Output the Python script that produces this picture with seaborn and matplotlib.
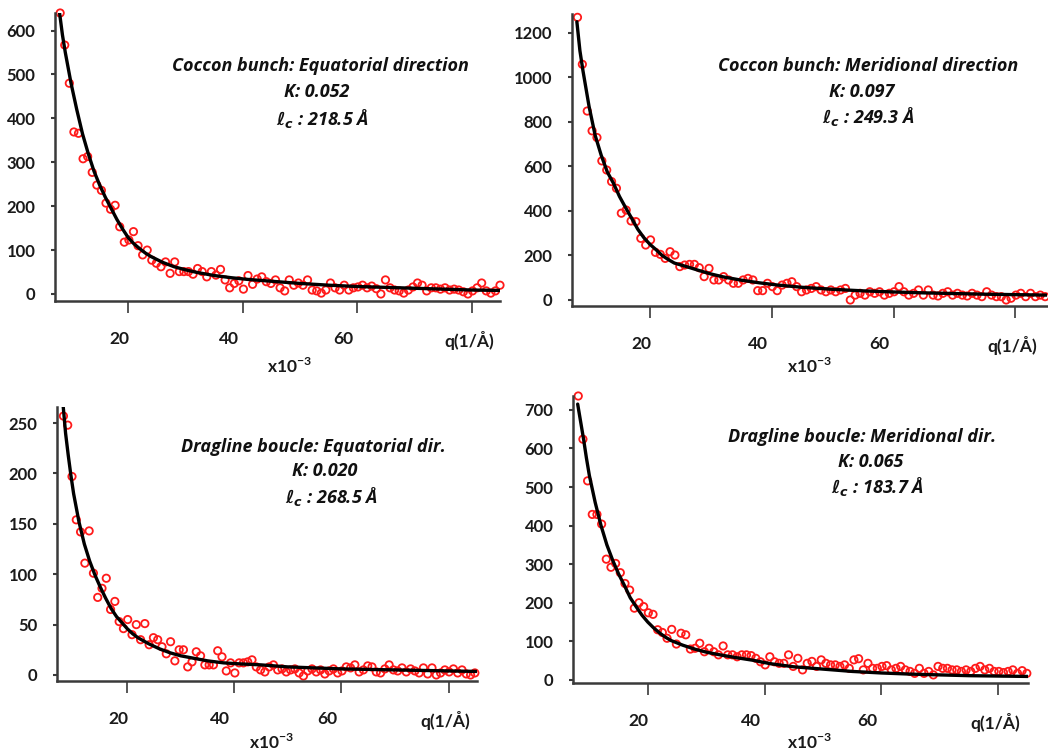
import numpy as np
import pandas as pd
import matplotlib
matplotlib.use("Agg")
import matplotlib.pyplot as plt
import matplotlib.transforms as mtransforms
import seaborn as sns

# ---------------- data ----------------
q = [8.1, 8.9, 9.7, 10.5, 11.3, 12.1, 12.9, 13.7, 14.5, 15.3, 16.1, 16.9, 17.7, 18.5, 19.3, 20.1,
     20.9, 21.7, 22.5, 23.3, 24.1, 24.9, 25.7, 26.5, 27.3, 28.1, 28.9, 29.7, 30.5, 31.3, 32.1, 32.9,
     33.7, 34.5, 35.3, 36.1, 36.9, 37.7, 38.5, 39.3, 40.1, 40.9, 41.7, 42.5, 43.3, 44.1, 44.9, 45.7,
     46.5, 47.3, 48.1, 48.9, 49.7, 50.5, 51.3, 52.1, 52.9, 53.7, 54.5, 55.3, 56.1, 56.9, 57.7, 58.5,
     59.3, 60.1, 60.9, 61.7, 62.5, 63.3, 64.1, 64.9, 65.7, 66.5, 67.3, 68.1, 68.9, 69.7, 70.5, 71.3,
     72.1, 72.9, 73.7, 74.5, 75.3, 76.1, 76.9, 77.7, 78.5, 79.3, 80.1, 80.9, 81.7, 82.5, 83.3, 84.1,
     84.9]

cocoon_eq = [640, 567, 480, 369, 366, 308, 313, 277, 248, 236, 207, 193, 202, 153, 118, 123,
             142, 110, 89, 100, 77, 70, 62, 73, 47, 73, 51, 51, 51, 45, 58, 51,
             39, 51, 43, 56, 32, 14, 24, 30, 11, 42, 22, 34, 39, 28, 24, 32,
             14, 7, 32, 20, 25, 20, 32, 9, 7, 2, 9, 25, 14, 9, 20, 9,
             14, 16, 20, 14, 18, 12, 0, 32, 14, 9, 7, 2, 9, 16, 25, 20,
             7, 14, 14, 11, 14, 9, 11, 9, 5, 0, 7, 14, 25, 7, 2, 7,
             20]

cocoon_mer = [1270, 1059, 849, 760, 730, 625, 584, 532, 502, 390, 404, 355, 352, 277, 247, 270,
              214, 205, 187, 217, 202, 150, 157, 160, 160, 145, 105, 142, 90, 90, 105, 90,
              75, 75, 90, 97, 90, 42, 42, 75, 60, 42, 67, 75, 82, 60, 37, 45,
              52, 60, 45, 37, 45, 37, 45, 52, 0, 22, 30, 22, 37, 30, 37, 22,
              30, 37, 60, 37, 22, 30, 45, 22, 45, 22, 18, 30, 37, 22, 30, 22,
              18, 30, 22, 15, 37, 22, 15, 15, 0, 8, 22, 30, 15, 30, 15, 22,
              15]

drag_eq = [257, 248, 197, 154, 142, 111, 143, 101, 77, 86, 96, 65, 73, 53, 46, 55,
           40, 50, 35, 51, 30, 37, 35, 28, 21, 33, 14, 25, 25, 8, 13, 23,
           19, 10, 10, 10, 24, 18, 4, 12, 2, 12, 12, 13, 15, 8, 5, 3,
           8, 10, 5, 6, 3, 5, 6, 2, -1, 4, 6, 3, 5, 1, 4, 6,
           2, 4, 8, 7, 10, 3, 5, 9, 8, 3, 2, 6, 10, 5, 4, 7,
           3, 6, 4, 2, 7, 1, 7, 0, 2, 5, 3, 6, 2, 5, 1, 0,
           2]

drag_mer = [736, 624, 516, 429, 429, 404, 313, 292, 302, 278, 250, 233, 186, 200, 190, 174,
            170, 130, 123, 108, 131, 93, 121, 117, 80, 82, 95, 73, 82, 73, 65, 88,
            65, 65, 60, 65, 65, 63, 56, 47, 39, 60, 47, 43, 43, 65, 35, 56,
            26, 43, 48, 35, 52, 43, 39, 39, 35, 39, 30, 52, 55, 26, 43, 30,
            30, 35, 37, 26, 30, 35, 26, 22, 17, 30, 17, 22, 13, 35, 30, 30,
            26, 26, 22, 26, 22, 30, 35, 26, 30, 22, 22, 19, 22, 26, 17, 24,
            17]

fit_q = [8.0, 8.5, 9, 9.5, 10, 11, 12, 13, 14, 15, 16, 17, 18, 19, 20, 21, 22, 23, 24,
         26, 28, 30, 32, 35, 38, 41, 45, 50, 55, 60, 65, 70, 75, 80, 85.2]
fit_cocoon_eq = [640, 590, 550, 515, 480, 420, 365, 320, 280, 248, 220, 195, 170, 148, 128,
                 114, 103, 93, 85, 72, 62, 55, 49, 42, 37, 33, 29, 24, 20, 17, 15, 13, 11, 9, 8]
fit_cocoon_mer = [1250, 1120, 1030, 950, 870, 740, 650, 575, 525, 465, 415, 367, 318, 280, 250,
                  226, 200, 182, 166, 150, 133, 117, 104, 89, 77, 67, 57, 48, 41, 36, 32, 29, 26,
                  24, 22]
fit_drag_eq = [270, 240, 218, 198, 180, 152, 130, 113, 99, 87, 76, 66, 58, 52, 46, 41, 37, 34,
               31, 26, 22, 19, 17, 14, 12, 11, 10, 8, 7, 6, 5.5, 5, 4.5, 4, 3.5]
fit_drag_mer = [715, 670, 625, 575, 530, 460, 400, 350, 310, 275, 245, 213, 190, 168, 150, 135,
                122, 111, 102, 90, 80, 72, 66, 58, 51, 42, 34, 28, 22, 18, 15, 13, 11, 10, 9]

titles = ["Coccon bunch: Equatorial direction", "Coccon bunch: Meridional direction",
          "Dragline boucle: Equatorial dir.", "Dragline boucle: Meridional dir."]
k_values = ["0.052", "0.097", "0.020", "0.065"]
lc_values = ["218.5", "249.3", "268.5", "183.7"]
x_ticks = [20, 40, 60, 80]
x_ticklabels = ["20", "40", "60", "q(1/Å)"]
y_ticks = [[0, 100, 200, 300, 400, 500, 600],
           [0, 200, 400, 600, 800, 1000, 1200],
           [0, 50, 100, 150, 200, 250],
           [0, 100, 200, 300, 400, 500, 600, 700]]

# ---------------- style ----------------
sns.set_theme(style="white")
plt.rcParams['font.family'] = ['Lato', 'DejaVu Sans']
plt.rcParams['mathtext.fontset'] = 'custom'
plt.rcParams['mathtext.it'] = 'DejaVu Sans:italic:bold'
plt.rcParams['mathtext.rm'] = 'Lato:bold'
plt.rcParams['mathtext.bf'] = 'Lato:bold'

W, H = 1048, 754
fig = plt.figure(figsize=(W / 100, H / 100), dpi=100)

rects = [(55, 500, 13, 301), (572, 1047, 14, 306), (57, 477, 407, 681), (573, 1028, 396, 683)]
xlims = [(7.2, 84.9), (7.2, 85.2), (6.9, 85.3), (7.2, 85.1)]
ylims = [(-16, 640), (-27, 1285), (-6, 266), (-8, 736)]
series = [cocoon_eq, cocoon_mer, drag_eq, drag_mer]
fits = [fit_cocoon_eq, fit_cocoon_mer, fit_drag_eq, fit_drag_mer]
text_pos = [(320, 66), (868, 66), (313, 447), (862, 437)]
k_pos = [(317, 92), (862, 92), (325, 471), (871, 462)]
l_pos = [(322, 118), (868, 117), (331, 496), (877, 487)]
xlab_pos = [(290, 366), (810, 366), (272, 742), (810, 742)]
label_shift = [-9, -14, -14, -3]

text_font = ['Open Sans', 'DejaVu Sans']

for i in range(4):
    l, r, t, b = rects[i]
    ax = fig.add_axes([l / W, 1 - b / H, (r - l) / W, (b - t) / H])
    df = pd.DataFrame({"q": q, "I": series[i]})
    sns.scatterplot(data=df, x="q", y="I", ax=ax, marker="o", s=28, color="#ff1a1a",
                    linewidth=1.3, zorder=2, legend=False, clip_on=False)
    for coll in ax.collections:
        coll.set_facecolor("none")
        coll.set_edgecolor("#ff1a1a")
    dff = pd.DataFrame({"q": fit_q, "I": fits[i]})
    sns.lineplot(data=dff, x="q", y="I", ax=ax, color="black", lw=2.4, zorder=3)
    ax.set_xlim(*xlims[i])
    ax.set_ylim(*ylims[i])
    ax.set_xlabel("")
    ax.set_ylabel("")
    ax.set_xticks(x_ticks)
    ax.set_xticklabels(x_ticklabels)
    ax.set_yticks(y_ticks[i])
    for s in ["top", "right"]:
        ax.spines[s].set_visible(False)
    for s in ["left", "bottom"]:
        ax.spines[s].set_color("#3a3a3a")
        ax.spines[s].set_linewidth(1.8)
    ax.tick_params(axis="x", direction="out", length=8.5, width=1.2, color="#3a3a3a",
                   pad=13, labelsize=12.5, labelcolor="#1a1a1a", bottom=True)
    ax.tick_params(axis="y", direction="out", length=3, width=1.5, color="#3a3a3a",
                   pad=11, labelsize=12, labelcolor="#1a1a1a", left=True)
    for lab in ax.get_xticklabels() + ax.get_yticklabels():
        lab.set_fontweight("bold")
    for lab, dx in zip(ax.get_xticklabels(), label_shift):
        lab.set_transform(lab.get_transform() +
                          mtransforms.ScaledTranslation(dx / 100, 0, fig.dpi_scale_trans))
    ax.set_facecolor("white")

    tx, ty = text_pos[i]
    fig.text(tx / W, 1 - ty / H, titles[i], ha="center", va="center", fontsize=13,
             fontweight="bold", fontstyle="italic", color="#111111", family=text_font)
    kx, ky = k_pos[i]
    fig.text(kx / W, 1 - ky / H, "K: " + k_values[i], ha="center", va="center", fontsize=13,
             fontweight="bold", fontstyle="italic", color="#111111", family=text_font)
    lx, ly = l_pos[i]
    fig.text(lx / W, 1 - ly / H, r"$\ell_c$ : " + lc_values[i] + " Å", ha="center", va="center",
             fontsize=13, fontweight="bold", fontstyle="italic", color="#111111",
             family=text_font)
    xx, xy = xlab_pos[i]
    fig.text(xx / W, 1 - xy / H, r"x10$^{\mathbf{-3}}$", ha="center", va="center", fontsize=12.5,
             fontweight="bold", color="#1a1a1a")

fig.savefig("out.png", dpi=100, facecolor="white")
